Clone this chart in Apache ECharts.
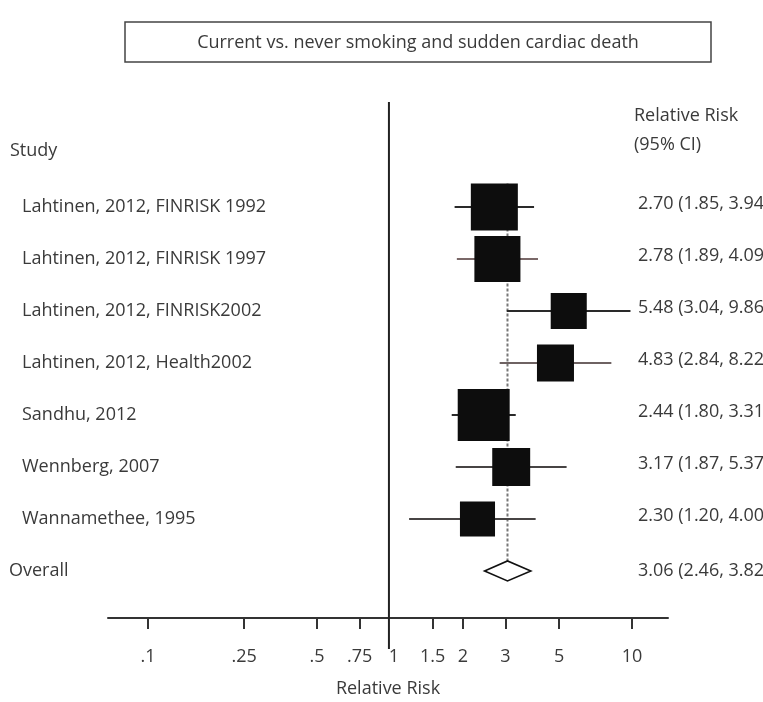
<!DOCTYPE html>
<html><head><meta charset="utf-8">
<script src="https://cdn.jsdelivr.net/npm/echarts@6/dist/echarts.min.js"></script>
<style>html,body{margin:0;padding:0;background:#fff}#c{width:763px;height:702px}</style>
</head><body><div id="c"></div>
<script>
const studies = ['Lahtinen, 2012, FINRISK 1992','Lahtinen, 2012, FINRISK 1997','Lahtinen, 2012, FINRISK2002','Lahtinen, 2012, Health2002','Sandhu, 2012','Wennberg, 2007','Wannamethee, 1995'];
const rr = [2.70, 2.78, 5.48, 4.83, 2.44, 3.17, 2.30];
const lower = [1.85, 1.89, 3.04, 2.84, 1.80, 1.87, 1.20];
const upper = [3.94, 4.09, 9.86, 8.22, 3.31, 5.37, 4.00];
const weights = [22.1, 21.2, 13.0, 13.7, 27.0, 14.4, 12.3];
const overallLabel = 'Overall';
const overallRR = 3.06, overallLower = 2.46, overallUpper = 3.82;
const tickValues = [0.1, 0.25, 0.5, 0.75, 1, 1.5, 2, 3, 5, 10];
const tickLabels = ['.1', '.25', '.5', '.75', '1', '1.5', '2', '3', '5', '10'];
const titleText = 'Current vs. never smoking and sudden cardiac death';
const axisTitle = 'Relative Risk';
const leftHeader = 'Study';
const rightHeader = ['Relative Risk', '(95% CI)'];

const FONT = 'Open Sans';
const FS = 18;
const TXT = '#3a3a3a';
const ciColors = ['#2a2a2a', '#7a6868', '#2a2a2a', '#6e6262', '#2a2a2a', '#474444', '#474444'];
const fmt = v => v.toFixed(2);
const Y_MIN = -2.019, Y_MAX = 7.904;

const chart = echarts.init(document.getElementById('c'), null, {renderer: 'canvas'});
const studyData = studies.map((s, i) => [lower[i], upper[i], i, rr[i], weights[i]]);
const textData = studies.map((s, i) => [i]).concat([[studies.length]]);

const option = {
  animation: false,
  backgroundColor: '#fff',
  grid: {left: 108, right: 95, top: 102, bottom: 84, outerBoundsMode: 'none', containLabel: false},
  xAxis: {
    type: 'log', logBase: 10, min: 0.0684, max: 14.09,
    name: axisTitle, nameLocation: 'middle', nameGap: 62,
    nameTextStyle: {fontFamily: FONT, fontSize: FS, color: TXT},
    axisLine: {show: true, onZero: false, lineStyle: {color: '#333', width: 2}},
    axisTick: {show: true, customValues: tickValues.filter(v => v !== 1), length: 11, lineStyle: {color: '#333', width: 2}},
    axisLabel: {
      customValues: tickValues, margin: 30, fontFamily: FONT, fontSize: FS, color: TXT,
      formatter: v => {
        let k = tickValues.findIndex(t => Math.abs(t - v) / t < 1e-6);
        if (k < 0) return '';
        return tickValues[k] === 1 ? '{one|' + tickLabels[k] + '}' : tickLabels[k];
      },
      rich: {one: {fontFamily: FONT, fontSize: FS, color: TXT, padding: [0, 0, 0, 8]}}
    },
    splitLine: {show: false}, minorTick: {show: false}, minorSplitLine: {show: false}
  },
  yAxis: {type: 'value', inverse: true, min: Y_MIN, max: Y_MAX, show: false},
  series: [
    { // line of no effect
      type: 'custom', silent: true, data: [[1]],
      renderItem: (params, api) => {
        const t = api.coord([api.value(0), Y_MIN]);
        const b = api.coord([api.value(0), Y_MAX]);
        return {type: 'line', shape: {x1: t[0] - 1, y1: t[1], x2: b[0] - 1, y2: b[1] + 31},
          style: {stroke: '#222', lineWidth: 2}};
      }
    },
    { // overall dashed line
      type: 'custom', silent: true, data: [[overallRR]],
      renderItem: (params, api) => {
        const t = api.coord([api.value(0), -0.45]);
        const b = api.coord([api.value(0), studies.length]);
        return {type: 'line', shape: {x1: t[0], y1: t[1], x2: b[0], y2: b[1]},
          style: {stroke: '#777', lineWidth: 2, lineDash: [3, 2]}};
      }
    },
    { // study CI and boxes
      type: 'custom', silent: true, data: studyData,
      renderItem: (params, api) => {
        const i = api.value(2);
        const p1 = api.coord([api.value(0), i]);
        const p2 = api.coord([api.value(1), i]);
        const c = api.coord([api.value(3), i]);
        const s = 10 * Math.sqrt(api.value(4));
        return {type: 'group', children: [
          {type: 'line', shape: {x1: p1[0], y1: p1[1], x2: p2[0], y2: p2[1]},
            style: {stroke: ciColors[i], lineWidth: 2.2}},
          {type: 'rect', shape: {x: c[0] - s / 2, y: c[1] - s / 2, width: s, height: s},
            style: {fill: '#0d0d0d'}}
        ]};
      }
    },
    { // overall diamond
      type: 'custom', silent: true, data: [[overallLower, overallUpper, overallRR, studies.length]],
      renderItem: (params, api) => {
        const r = api.value(3);
        const l = api.coord([api.value(0), r]);
        const u = api.coord([api.value(1), r]);
        const m = api.coord([api.value(2), r]);
        const h = 10;
        return {type: 'polygon', shape: {points: [[l[0], m[1]], [m[0], m[1] - h], [u[0], m[1]], [m[0], m[1] + h]]},
          style: {fill: '#fff', stroke: '#111', lineWidth: 1.6}};
      }
    },
    { // row texts
      type: 'custom', silent: true, data: textData,
      renderItem: (params, api) => {
        const rowIdx = api.value(0);
        const isOverall = rowIdx === studies.length;
        const y = api.coord([1, rowIdx])[1];
        const left = isOverall ? overallLabel : studies[rowIdx];
        const right = isOverall ? `${fmt(overallRR)} (${fmt(overallLower)}, ${fmt(overallUpper)})`
          : `${fmt(rr[rowIdx])} (${fmt(lower[rowIdx])}, ${fmt(upper[rowIdx])})`;
        return {type: 'group', children: [
          {type: 'text', x: isOverall ? 9 : 22, y: y,
            style: {text: left, fill: TXT, fontFamily: FONT, fontSize: FS, verticalAlign: 'middle', align: 'left'}},
          {type: 'text', x: 638, y: isOverall ? y : y - 3,
            style: {text: right, fill: TXT, fontFamily: FONT, fontSize: FS, verticalAlign: 'middle', align: 'left'}}
        ]};
      }
    }
  ],
  graphic: [
    {type: 'rect', shape: {x: 125, y: 22, width: 586, height: 40},
      style: {fill: '#fff', stroke: '#444', lineWidth: 1.5}},
    {type: 'text', x: 418, y: 43, style: {text: titleText, fill: TXT, fontFamily: FONT, fontSize: FS, align: 'center', verticalAlign: 'middle'}},
    {type: 'text', x: 10, y: 151, style: {text: leftHeader, fill: TXT, fontFamily: FONT, fontSize: FS, verticalAlign: 'middle'}},
    {type: 'text', x: 634, y: 116, style: {text: rightHeader[0], fill: TXT, fontFamily: FONT, fontSize: FS, verticalAlign: 'middle'}},
    {type: 'text', x: 634, y: 145, style: {text: rightHeader[1], fill: TXT, fontFamily: FONT, fontSize: FS, verticalAlign: 'middle'}}
  ]
};
chart.setOption(option);
</script>
</body></html>
